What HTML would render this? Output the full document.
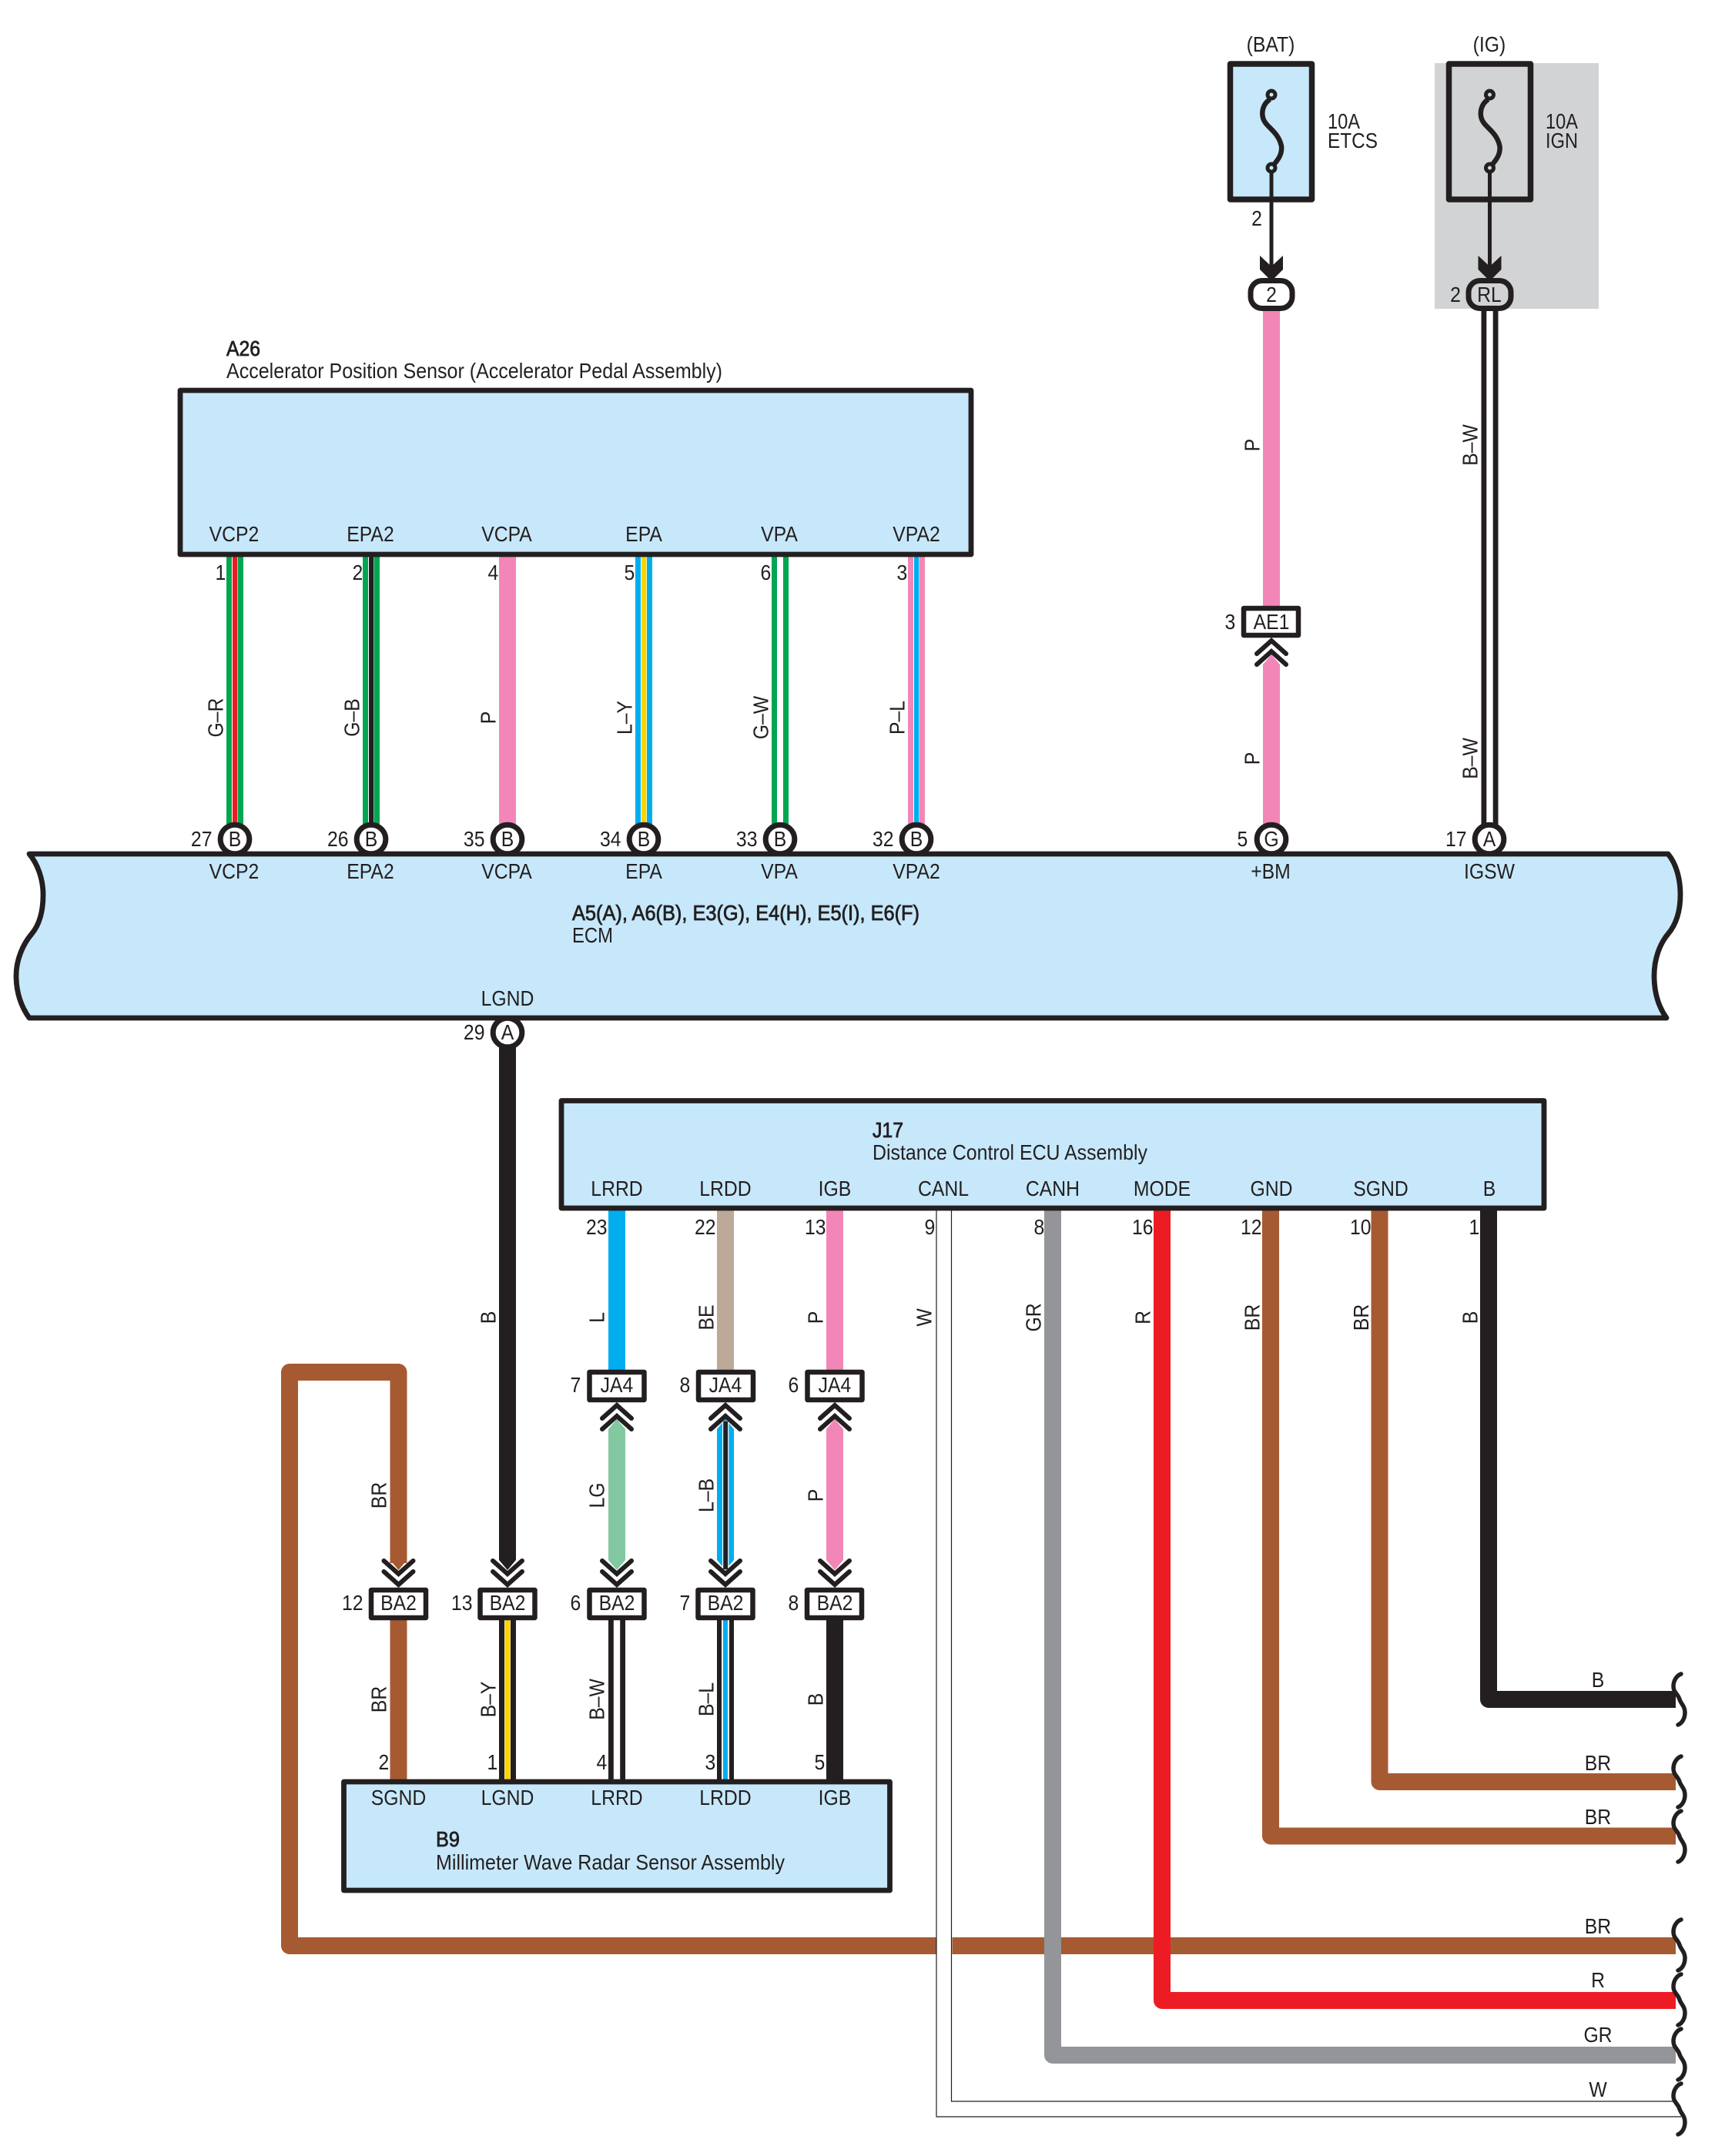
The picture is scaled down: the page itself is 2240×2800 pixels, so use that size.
<!DOCTYPE html>
<html><head><meta charset="utf-8"><title>Wiring diagram</title>
<style>
html,body{margin:0;padding:0;background:#fff}
svg{display:block}
text{font-family:"Liberation Sans",sans-serif;font-size:27.5px;fill:#231f20}
.t{transform-box:fill-box;transform-origin:center;transform:scaleX(.9)}
.m{text-anchor:middle}.e{text-anchor:end}
.b{stroke:#231f20;stroke-width:.8}
.box{fill:#c7e8fb;stroke:#231f20;stroke-width:6.8;stroke-linejoin:round}
.con{fill:#fff;stroke:#231f20;stroke-width:6.5;stroke-linejoin:round}
.cir{fill:#fff;stroke:#231f20;stroke-width:7}
.chev{fill:none;stroke:#231f20;stroke-width:6;stroke-linecap:round;stroke-linejoin:miter}
.w{fill:none;stroke-width:22;stroke-linejoin:round}
.thin{fill:none;stroke:#231f20;stroke-width:1.2}
.cur{fill:none;stroke:#231f20;stroke-width:5.5;stroke-linecap:round}
</style></head><body>
<svg width="2240" height="2800" viewBox="0 0 2240 2800" xmlns="http://www.w3.org/2000/svg">
<defs>
<path id="cur" class="cur" d="M2183 -33C2177 -31 2173 -24 2173 -17C2173 -9 2179 -7 2181 0C2183 6 2188 9 2188 17C2188 25 2184 31 2179 33"/>
<g id="cu"><path class="chev" d="M-19 17L0 0L19 17"/><path class="chev" d="M-19 31L0 14L19 31"/></g>
<g id="cd"><path class="chev" d="M-19 -31L0 -14L19 -31"/><path class="chev" d="M-19 -17L0 0L19 -17"/></g>
</defs>

<!-- gray IG background -->
<rect x="1863" y="82" width="213" height="319" fill="#d1d3d4"/>

<!-- fuses -->
<rect x="1597.500" y="83" width="106" height="176" fill="#c7e8fb" stroke="#231f20" stroke-width="7.5" stroke-linejoin="round"/>
<rect x="1881.500" y="83" width="106" height="176" fill="#d1d3d4" stroke="#231f20" stroke-width="7.5" stroke-linejoin="round"/>
<g fill="none" stroke="#231f20">
<path stroke-width="6.5" d="M1649 129C1640 135 1638 145 1640 153C1643 165 1660 170 1664 190C1665 200 1660 207 1654 214"/>
<circle cx="1651" cy="123" r="5" stroke-width="5" fill="#c7e8fb"/>
<circle cx="1651" cy="218" r="5" stroke-width="5" fill="#c7e8fb"/>
<path stroke-width="5" d="M1651 223V350"/>
</g>
<g fill="none" stroke="#231f20" transform="translate(283.500 0)">
<path stroke-width="6.5" d="M1649 129C1640 135 1638 145 1640 153C1643 165 1660 170 1664 190C1665 200 1660 207 1654 214"/>
<circle cx="1651" cy="123" r="5" stroke-width="5" fill="#d1d3d4"/>
<circle cx="1651" cy="218" r="5" stroke-width="5" fill="#d1d3d4"/>
<path stroke-width="5" d="M1651 223V350"/>
</g>
<polygon fill="#231f20" points="1636,332 1651,346 1666,332 1666,350 1651,365 1636,350"/>
<polygon fill="#231f20" points="1919.500,332 1934.500,346 1949.500,332 1949.500,350 1934.500,365 1919.500,350"/>

<!-- top-right wires -->
<rect x="1640" y="400" width="22" height="390" fill="#f287b7"/>
<polygon fill="#f287b7" points="1640,1070 1640,863 1651,850 1662,863 1662,1070"/>
<rect x="1923.500" y="400" width="22" height="672" fill="#231f20"/>
<rect x="1930.300" y="400" width="8.400" height="672" fill="#fff"/>
<rect x="1624" y="364.500" width="54" height="36" rx="15" fill="#fff" stroke="#231f20" stroke-width="7"/>
<rect x="1907" y="364.500" width="55" height="36" rx="15" fill="#d1d3d4" stroke="#231f20" stroke-width="7"/>
<rect x="1615" y="790" width="71" height="35" class="con"/>
<use href="#cu" x="1651" y="832"/>

<!-- A26 to ECM wires -->
<rect x="294" y="715" width="22" height="355" fill="#00a651"/><rect x="301" y="715" width="8" height="355" fill="#fff"/><rect x="302" y="715" width="6.4" height="355" fill="#ed1c24"/>
<rect x="471" y="715" width="22" height="355" fill="#00a651"/><rect x="478" y="715" width="8" height="355" fill="#fff"/><rect x="479" y="715" width="6.4" height="355" fill="#231f20"/>
<rect x="648" y="715" width="22" height="355" fill="#f287b7"/>
<rect x="825" y="715" width="22" height="355" fill="#00aeef"/><rect x="832" y="715" width="8" height="355" fill="#fff"/><rect x="833" y="715" width="6.4" height="355" fill="#fdd300"/>
<rect x="1002" y="715" width="22" height="355" fill="#00a651"/><rect x="1009" y="715" width="8" height="355" fill="#fff"/>
<rect x="1179" y="715" width="22" height="355" fill="#f287b7"/><rect x="1186" y="715" width="8" height="355" fill="#fff"/><rect x="1187" y="715" width="6.4" height="355" fill="#00aeef"/>

<!-- A26 box -->
<rect x="234" y="507" width="1027" height="213" class="box"/>

<!-- ECM pin circles -->
<circle class="cir" cx="305" cy="1090" r="18.8"/><circle class="cir" cx="482" cy="1090" r="18.8"/><circle class="cir" cx="659" cy="1090" r="18.8"/><circle class="cir" cx="836" cy="1090" r="18.8"/><circle class="cir" cx="1013" cy="1090" r="18.8"/><circle class="cir" cx="1190" cy="1090" r="18.8"/><circle class="cir" cx="1651" cy="1090" r="18.8"/><circle class="cir" cx="1934" cy="1090" r="18.8"/>

<!-- LGND wire -->
<polygon fill="#231f20" points="648,1350 670,1350 670,2026 659,2039 648,2026"/>
<circle class="cir" cx="659" cy="1341" r="18.8"/>

<!-- ECM -->
<path class="box" d="M38 1109H2166C2177 1122 2182 1142 2182 1162C2182 1182 2177 1200 2166 1213C2155 1226 2148 1246 2148 1267C2148 1290 2154 1308 2164 1322H38C28 1308 21 1290 21 1267C21 1246 30 1226 41 1213C52 1200 56 1182 56 1162C56 1142 49 1122 38 1109Z"/>

<!-- Long horizontal wires -->
<path class="w" stroke="#a65a32" d="M517.5 2030V1782H376V2527H2176"/>
<rect x="1216" y="2510" width="20.500" height="34" fill="#fff"/>
<path class="thin" d="M1216 1570V2749H2183"/>
<path class="thin" d="M1235.500 1570V2729H2172"/>
<path class="w" stroke="#939598" d="M1367 1565V2669H2176"/>
<path class="w" stroke="#ed1c24" d="M1509 1565V2598H2176"/>
<path class="w" stroke="#a65a32" d="M1650 1565V2384.500H2176"/>
<path class="w" stroke="#a65a32" d="M1791.500 1565V2314H2176"/>
<path class="w" stroke="#231f20" d="M1933 1565V2207H2176"/>
<polygon fill="#a65a32" points="506.500,2020 528.500,2020 528.500,2026 517.500,2039 506.500,2026"/>

<!-- J17 to JA4 -->
<rect x="790" y="1565" width="22" height="220" fill="#00aeef"/>
<rect x="931" y="1565" width="22" height="220" fill="#bca998"/>
<rect x="1073" y="1565" width="22" height="220" fill="#f287b7"/>

<!-- JA4 to BA2 -->
<polygon fill="#82c8a0" points="790,1856 801,1843 812,1856 812,2026 801,2039 790,2026"/>
<polygon fill="#00aeef" points="931,1856 942,1843 953,1856 953,2026 942,2039 931,2026"/>
<rect x="938" y="1846" width="8.400" height="190" fill="#fff"/><rect x="939.200" y="1846" width="6" height="192" fill="#231f20"/>
<polygon fill="#f287b7" points="1073,1856 1084,1843 1095,1856 1095,2026 1084,2039 1073,2026"/>

<!-- BA2 to B9 -->
<rect x="506.500" y="2100" width="22" height="218" fill="#a65a32"/>
<rect x="648" y="2100" width="22" height="218" fill="#231f20"/><rect x="655" y="2100" width="8" height="218" fill="#fff"/><rect x="655.500" y="2100" width="7" height="218" fill="#fdd300"/>
<rect x="790" y="2100" width="22" height="218" fill="#231f20"/><rect x="796.800" y="2100" width="8.400" height="218" fill="#fff"/>
<rect x="931" y="2100" width="22" height="218" fill="#231f20"/><rect x="937" y="2100" width="10" height="218" fill="#fff"/><rect x="939" y="2100" width="6" height="218" fill="#00aeef"/>
<rect x="1073" y="2100" width="22" height="218" fill="#231f20"/>

<!-- connectors -->
<rect x="765.500" y="1782" width="71" height="36" class="con"/>
<rect x="907" y="1782" width="71" height="36" class="con"/>
<rect x="1048.500" y="1782" width="71" height="36" class="con"/>
<rect x="482" y="2065" width="71" height="36" class="con"/>
<rect x="623.500" y="2065" width="71" height="36" class="con"/>
<rect x="765.500" y="2065" width="71" height="36" class="con"/>
<rect x="906.500" y="2065" width="71" height="36" class="con"/>
<rect x="1048" y="2065" width="71" height="36" class="con"/>
<use href="#cu" x="801" y="1825"/><use href="#cu" x="942" y="1825"/><use href="#cu" x="1084" y="1825"/>
<use href="#cd" x="517.500" y="2058"/><use href="#cd" x="659" y="2058"/><use href="#cd" x="801" y="2058"/><use href="#cd" x="942" y="2058"/><use href="#cd" x="1084" y="2058"/>

<!-- J17 and B9 boxes -->
<rect x="729" y="1429.500" width="1276" height="139.500" class="box"/>
<rect x="446.500" y="2314" width="709" height="141" class="box"/>

<!-- curlies -->
<use href="#cur" y="2207"/><use href="#cur" y="2314"/><use href="#cur" y="2385"/><use href="#cur" y="2526"/><use href="#cur" y="2597"/><use href="#cur" y="2668"/><use href="#cur" y="2739"/>

<!-- Top labels -->
<text class="t m" x="1650" y="67">(BAT)</text>
<text class="t m" x="1934" y="67">(IG)</text>
<text x="1724" y="167" textLength="42" lengthAdjust="spacingAndGlyphs">10A</text>
<text x="1724" y="192" textLength="65" lengthAdjust="spacingAndGlyphs">ETCS</text>
<text x="2007" y="167" textLength="42" lengthAdjust="spacingAndGlyphs">10A</text>
<text x="2007" y="192" textLength="42" lengthAdjust="spacingAndGlyphs">IGN</text>
<text class="t m" x="1632" y="293">2</text>
<text class="t m" x="1651" y="392">2</text>
<text class="t m" x="1890" y="392">2</text>
<text class="t m" x="1934" y="392">RL</text>
<text class="t e" x="1605" y="817">3</text>
<text class="t m" x="1651" y="817">AE1</text>

<!-- A26 -->
<text class="b" x="294" y="462" textLength="44" lengthAdjust="spacingAndGlyphs">A26</text>
<text x="294" y="491" textLength="644" lengthAdjust="spacingAndGlyphs">Accelerator Position Sensor (Accelerator Pedal Assembly)</text>
<text class="t m" x="304" y="703">VCP2</text><text class="t m" x="481" y="703">EPA2</text><text class="t m" x="658" y="703">VCPA</text><text class="t m" x="836" y="703">EPA</text><text class="t m" x="1012" y="703">VPA</text><text class="t m" x="1190" y="703">VPA2</text>
<text class="t m" x="304" y="1141">VCP2</text><text class="t m" x="481" y="1141">EPA2</text><text class="t m" x="658" y="1141">VCPA</text><text class="t m" x="836" y="1141">EPA</text><text class="t m" x="1012" y="1141">VPA</text><text class="t m" x="1190" y="1141">VPA2</text>
<text class="t m" x="1650" y="1141">+BM</text><text class="t m" x="1934" y="1141">IGSW</text>
<text class="t m" x="659" y="1306">LGND</text>
<text class="t e" x="294" y="753">1</text><text class="t e" x="472" y="753">2</text><text class="t e" x="648" y="753">4</text><text class="t e" x="825" y="753">5</text><text class="t e" x="1002" y="753">6</text><text class="t e" x="1179" y="753">3</text>

<!-- pin circles text -->
<text class="t m" x="305" y="1099">B</text><text class="t m" x="482" y="1099">B</text><text class="t m" x="659" y="1099">B</text><text class="t m" x="836" y="1099">B</text><text class="t m" x="1013" y="1099">B</text><text class="t m" x="1190" y="1099">B</text><text class="t m" x="1651" y="1099">G</text><text class="t m" x="1934" y="1099">A</text>
<text class="t m" x="659" y="1350">A</text>
<text class="t e" x="277" y="1099">27</text><text class="t e" x="454" y="1099">26</text><text class="t e" x="631" y="1099">35</text><text class="t e" x="808" y="1099">34</text><text class="t e" x="985" y="1099">33</text><text class="t e" x="1162" y="1099">32</text><text class="t e" x="1621" y="1099">5</text><text class="t e" x="1906" y="1099">17</text>
<text class="t e" x="631" y="1350">29</text>

<!-- ECM title -->
<text class="b" x="743" y="1195" textLength="451" lengthAdjust="spacingAndGlyphs">A5(A), A6(B), E3(G), E4(H), E5(I), E6(F)</text>
<text x="743" y="1224" textLength="53" lengthAdjust="spacingAndGlyphs">ECM</text>

<!-- J17 -->
<text class="b" x="1133" y="1477" textLength="40" lengthAdjust="spacingAndGlyphs">J17</text>
<text x="1133" y="1506" textLength="357" lengthAdjust="spacingAndGlyphs">Distance Control ECU Assembly</text>
<text class="t m" x="801" y="1553">LRRD</text><text class="t m" x="942" y="1553">LRDD</text><text class="t m" x="1084" y="1553">IGB</text><text class="t m" x="1225" y="1553">CANL</text><text class="t m" x="1367" y="1553">CANH</text><text class="t m" x="1509" y="1553">MODE</text><text class="t m" x="1651" y="1553">GND</text><text class="t m" x="1793" y="1553">SGND</text><text class="t m" x="1934" y="1553">B</text>
<text class="t e" x="790" y="1603">23</text><text class="t e" x="931" y="1603">22</text><text class="t e" x="1074" y="1603">13</text><text class="t e" x="1215" y="1603">9</text><text class="t e" x="1357" y="1603">8</text><text class="t e" x="1499" y="1603">16</text><text class="t e" x="1640" y="1603">12</text><text class="t e" x="1782" y="1603">10</text><text class="t e" x="1922" y="1603">1</text>

<!-- connector text -->
<text class="t m" x="801" y="1808">JA4</text><text class="t m" x="942" y="1808">JA4</text><text class="t m" x="1084" y="1808">JA4</text>
<text class="t e" x="755" y="1808">7</text><text class="t e" x="897" y="1808">8</text><text class="t e" x="1038" y="1808">6</text>
<text class="t m" x="517.500" y="2091">BA2</text><text class="t m" x="659" y="2091">BA2</text><text class="t m" x="801" y="2091">BA2</text><text class="t m" x="942" y="2091">BA2</text><text class="t m" x="1084" y="2091">BA2</text>
<text class="t e" x="473" y="2091">12</text><text class="t e" x="615" y="2091">13</text><text class="t e" x="755" y="2091">6</text><text class="t e" x="897" y="2091">7</text><text class="t e" x="1038" y="2091">8</text>

<!-- B9 -->
<text class="t e" x="506" y="2298">2</text><text class="t e" x="647" y="2298">1</text><text class="t e" x="789" y="2298">4</text><text class="t e" x="930" y="2298">3</text><text class="t e" x="1072" y="2298">5</text>
<text class="t m" x="517.500" y="2344">SGND</text><text class="t m" x="659" y="2344">LGND</text><text class="t m" x="801" y="2344">LRRD</text><text class="t m" x="942" y="2344">LRDD</text><text class="t m" x="1084" y="2344">IGB</text>
<text class="b" x="566" y="2398" textLength="31" lengthAdjust="spacingAndGlyphs">B9</text>
<text x="566" y="2428" textLength="453" lengthAdjust="spacingAndGlyphs">Millimeter Wave Radar Sensor Assembly</text>

<!-- right labels -->
<text class="t m" x="2075" y="2191">B</text><text class="t m" x="2075" y="2299">BR</text><text class="t m" x="2075" y="2369">BR</text><text class="t m" x="2075" y="2511">BR</text><text class="t m" x="2075" y="2581">R</text><text class="t m" x="2075" y="2652">GR</text><text class="t m" x="2075" y="2723">W</text>

<!-- vertical labels -->
<g transform="translate(289.500 932) rotate(-90)"><text class="t m">G–R</text></g>
<g transform="translate(466.500 932) rotate(-90)"><text class="t m">G–B</text></g>
<g transform="translate(643.500 932) rotate(-90)"><text class="t m">P</text></g>
<g transform="translate(820.500 932) rotate(-90)"><text class="t m">L–Y</text></g>
<g transform="translate(997.500 932) rotate(-90)"><text class="t m">G–W</text></g>
<g transform="translate(1174.500 932) rotate(-90)"><text class="t m">P–L</text></g>
<g transform="translate(1635.500 578) rotate(-90)"><text class="t m">P</text></g>
<g transform="translate(1918.500 578) rotate(-90)"><text class="t m">B–W</text></g>
<g transform="translate(1635.500 985) rotate(-90)"><text class="t m">P</text></g>
<g transform="translate(1918.500 985) rotate(-90)"><text class="t m">B–W</text></g>
<g transform="translate(643.500 1711) rotate(-90)"><text class="t m">B</text></g>
<g transform="translate(784.500 1711) rotate(-90)"><text class="t m">L</text></g>
<g transform="translate(926.500 1711) rotate(-90)"><text class="t m">BE</text></g>
<g transform="translate(1068.500 1711) rotate(-90)"><text class="t m">P</text></g>
<g transform="translate(1209.500 1711) rotate(-90)"><text class="t m">W</text></g>
<g transform="translate(1351.500 1711) rotate(-90)"><text class="t m">GR</text></g>
<g transform="translate(1493.500 1711) rotate(-90)"><text class="t m">R</text></g>
<g transform="translate(1635.500 1711) rotate(-90)"><text class="t m">BR</text></g>
<g transform="translate(1777 1711) rotate(-90)"><text class="t m">BR</text></g>
<g transform="translate(1918.500 1711) rotate(-90)"><text class="t m">B</text></g>
<g transform="translate(501.500 1942) rotate(-90)"><text class="t m">BR</text></g>
<g transform="translate(784.500 1942) rotate(-90)"><text class="t m">LG</text></g>
<g transform="translate(926.500 1942) rotate(-90)"><text class="t m">L–B</text></g>
<g transform="translate(1068.500 1942) rotate(-90)"><text class="t m">P</text></g>
<g transform="translate(501.500 2207) rotate(-90)"><text class="t m">BR</text></g>
<g transform="translate(643.500 2207) rotate(-90)"><text class="t m">B–Y</text></g>
<g transform="translate(784.500 2207) rotate(-90)"><text class="t m">B–W</text></g>
<g transform="translate(926.500 2207) rotate(-90)"><text class="t m">B–L</text></g>
<g transform="translate(1068.500 2207) rotate(-90)"><text class="t m">B</text></g>
</svg>
</body></html>
